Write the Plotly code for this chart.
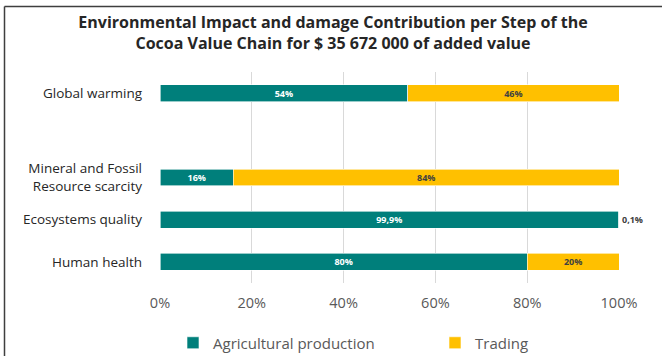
import plotly.graph_objects as go

# Impact categories, top to bottom (the blank entry leaves a spacer row)
categories = [
    "Global warming",
    " ",
    "Mineral and Fossil<br>Resource scarcity",
    "Ecosystems quality",
    "Human health",
]
# Share of each impact per step of the value chain (%)
agricultural_production = [54, None, 16, 99.9, 80]
trading = [46, None, 84, 0.1, 20]

tick_values = [0, 20, 40, 60, 80, 100]
tick_labels = ["0%", "20%", "40%", "60%", "80%", "100%"]

TEAL = "#007F7B"
GOLD = "#FFC000"
FONT = "Open Sans"

W, H = 662, 356
M_L, M_R, M_T, M_B = 160, 43, 72, 73


def pct_label(v):
    if v is None:
        return ""
    return f"{v:g}%".replace(".", ",")


def trading_position(v):
    if v is None:
        return "none"
    return "outside" if v < 1 else "inside"


fig = go.Figure()
fig.add_trace(go.Bar(
    y=categories, x=agricultural_production, orientation="h",
    name="Agricultural production", legend="legend",
    marker=dict(color=TEAL, line=dict(color="white", width=0.6)),
    text=[pct_label(v) for v in agricultural_production],
    textposition="inside", insidetextanchor="middle", constraintext="none",
    textfont=dict(family=FONT, size=9, color="white", weight="bold"),
    cliponaxis=False,
))
fig.add_trace(go.Bar(
    y=categories, x=trading, orientation="h",
    name="Trading", legend="legend2",
    marker=dict(color=GOLD, line=dict(color="white", width=0.6)),
    text=[pct_label(v) for v in trading],
    textposition=[trading_position(v) for v in trading],
    insidetextanchor="middle", constraintext="none",
    textfont=dict(family=FONT, size=9, color="#404040", weight="bold"),
    cliponaxis=False,
))

# frame lines around the chart area (left and top edges)
pw = W - M_L - M_R
ph = H - M_T - M_B


def px_x(p):
    return (p - M_L) / pw


def px_y(p):
    return (H - M_B - p) / ph


frame = dict(color="#3F3F3F", width=1.5)
fig.add_shape(type="line", xref="paper", yref="paper",
              x0=px_x(4.5), x1=px_x(662), y0=px_y(6.5), y1=px_y(6.5), line=frame)
fig.add_shape(type="line", xref="paper", yref="paper",
              x0=px_x(4.5), x1=px_x(4.5), y0=px_y(6.5), y1=px_y(356), line=frame)

legend_style = dict(
    orientation="h", xanchor="left",
    yref="container", y=(H - 343) / H, yanchor="middle",
    font=dict(family=FONT, size=15, color="#595959"),
    bgcolor="rgba(0,0,0,0)",
)

fig.update_layout(
    width=W, height=H,
    margin=dict(l=M_L, r=M_R, t=M_T, b=M_B, autoexpand=False),
    paper_bgcolor="white", plot_bgcolor="white",
    barmode="stack", bargap=0.6,
    font=dict(family=FONT, color="#404040"),
    title=dict(
        text="Environmental Impact and damage Contribution per Step of the<br>"
             "Cocoa Value Chain for $ 35 672 000 of added value",
        x=333 / W, xref="container", xanchor="center",
        y=1 - 28 / H, yref="container", yanchor="top",
        font=dict(family=FONT, size=16, color="#262626", weight="bold"),
    ),
    xaxis=dict(
        range=[0, 100], tickvals=tick_values, ticktext=tick_labels,
        showgrid=True, gridcolor="#D9D9D9", gridwidth=1,
        zeroline=False, showline=False,
        tickfont=dict(family=FONT, size=14.5, color="#595959"),
        ticklabelstandoff=9,
    ),
    yaxis=dict(
        autorange="reversed", showgrid=False, showline=False,
        tickfont=dict(family=FONT, size=13.5, color="#262626"),
        ticklabelstandoff=17,
    ),
    legend=dict(xref="container", x=173 / W, **legend_style),
    legend2=dict(xref="container", x=435 / W, **legend_style),
    showlegend=True,
)

fig.write_html("out.html")
